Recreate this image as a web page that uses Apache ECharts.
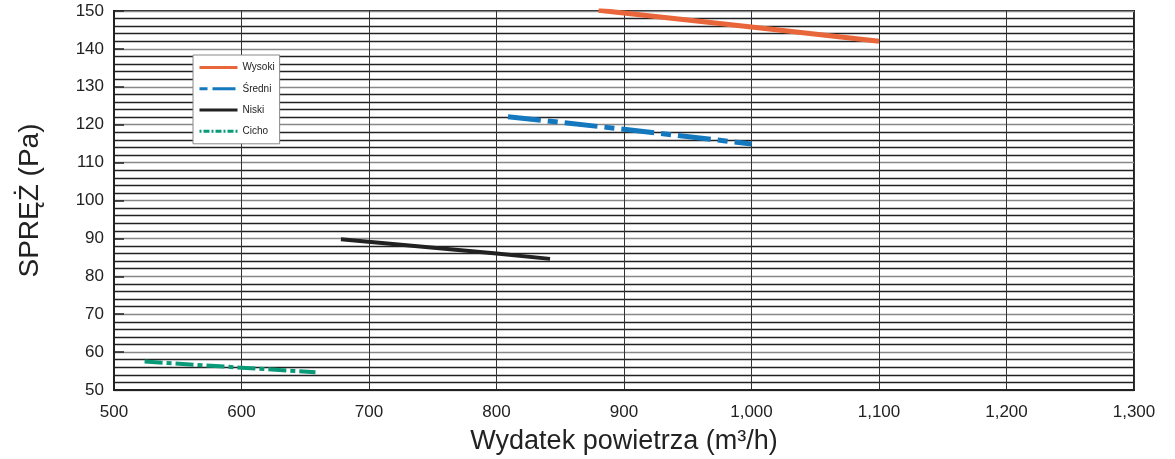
<!DOCTYPE html>
<html>
<head>
<meta charset="utf-8">
<script src="https://cdn.jsdelivr.net/npm/echarts@6/dist/echarts.min.js"></script>
<style>
  html, body { margin: 0; padding: 0; background: #fff; }
  #chart { width: 1175px; height: 459px; }
</style>
</head>
<body>
<div id="chart"></div>
<script>
// dane
const wysokiX = [880, 1000, 1100];
const wysokiY = [150.2, 145.8, 142.0];
const sredniX = [809, 900, 1000];
const sredniY = [122.1, 118.8, 114.9];
const niskiX = [678, 800, 842];
const niskiY = [89.8, 86.0, 84.6];
const cichoX = [524, 600, 658];
const cichoY = [57.5, 55.9, 54.7];

function pairs(xs, ys) {
    return xs.map((x, i) => [x, ys[i]]);
}

document.addEventListener('DOMContentLoaded', function() {
    const chart = echarts.init(document.getElementById('chart'));
    const font = 'Liberation Sans, Arial, sans-serif';

    const option = {
        animation: false,
        textStyle: { fontFamily: font },
        grid: {
            left: 114,
            right: 41,
            top: 11,
            bottom: 69,
            outerBoundsMode: 'none',
            containLabel: false,
            show: true,
            borderColor: '#222',
            borderWidth: 2
        },
        legend: {
            orient: 'vertical',
            left: 193,
            top: 55,
            padding: [7, 5, 7, 5],
            itemWidth: 38,
            itemHeight: 14,
            itemGap: 10,
            backgroundColor: '#fff',
            borderColor: '#888',
            borderWidth: 1,
            itemStyle: { opacity: 0 },
            textStyle: { fontSize: 10, color: '#222', fontFamily: font },
            data: [
                { name: 'Wysoki', lineStyle: { width: 3 } },
                { name: 'Średni', lineStyle: { width: 3, type: [8, 5, 23, 5] } },
                { name: 'Niski', lineStyle: { width: 3 } },
                { name: 'Cicho', lineStyle: { width: 3, type: [2, 2, 6, 2] } }
            ]
        },
        xAxis: {
            type: 'value',
            min: 500,
            max: 1300,
            interval: 100,
            name: 'Wydatek powietrza (m³/h)',
            nameLocation: 'middle',
            nameGap: 38,
            nameTextStyle: { fontSize: 27, color: '#222', fontFamily: font },
            axisLine: { show: true, lineStyle: { color: '#222', width: 2 } },
            axisTick: { show: false },
            axisLabel: {
                fontSize: 17,
                color: '#222',
                margin: 14,
                formatter: v => v.toLocaleString('en-US')
            },
            splitLine: { show: true, lineStyle: { color: '#333', width: 1 } }
        },
        yAxis: [
            {
                // gęsta siatka co 2 Pa
                type: 'value',
                min: 50,
                max: 150,
                interval: 2,
                axisLine: { show: false },
                axisTick: { show: false },
                axisLabel: { show: false },
                splitLine: {
                    show: true,
                    lineStyle: { color: ['#888', '#222', '#222', '#222', '#222'], width: 1.3 }
                }
            },
            {
                // etykiety i znaczniki co 10 Pa
                type: 'value',
                position: 'left',
                min: 50,
                max: 150,
                interval: 10,
                name: 'SPRĘŻ (Pa)',
                nameLocation: 'middle',
                nameGap: 70,
                nameTextStyle: { fontSize: 28, color: '#222', fontFamily: font },
                axisLine: { show: true, lineStyle: { color: '#222', width: 2 } },
                axisTick: { show: true, inside: true, length: 10, lineStyle: { color: '#222', width: 1.5 } },
                axisLabel: { fontSize: 17, color: '#222', margin: 10 },
                splitLine: { show: false }
            }
        ],
        series: [
            {
                name: 'Wysoki',
                type: 'line',
                symbol: 'none',
                data: pairs(wysokiX, wysokiY),
                lineStyle: { color: '#E8663A', width: 5 },
                itemStyle: { color: '#E8663A' },
                z: 5
            },
            {
                name: 'Średni',
                type: 'line',
                symbol: 'none',
                data: pairs(sredniX, sredniY),
                lineStyle: { color: '#1378BE', width: 5, type: [33, 7, 10, 7] },
                itemStyle: { color: '#1378BE' },
                z: 5
            },
            {
                name: 'Niski',
                type: 'line',
                symbol: 'none',
                data: pairs(niskiX, niskiY),
                lineStyle: { color: '#222', width: 4 },
                itemStyle: { color: '#222' },
                z: 5
            },
            {
                name: 'Cicho',
                type: 'line',
                symbol: 'none',
                data: pairs(cichoX, cichoY),
                lineStyle: { color: '#0A9A78', width: 4, type: [18, 4, 5, 4] },
                itemStyle: { color: '#0A9A78' },
                z: 5
            }
        ]
    };

    chart.setOption(option);

    window.addEventListener('resize', function() {
        chart.resize();
    });
});
</script>
</body>
</html>
